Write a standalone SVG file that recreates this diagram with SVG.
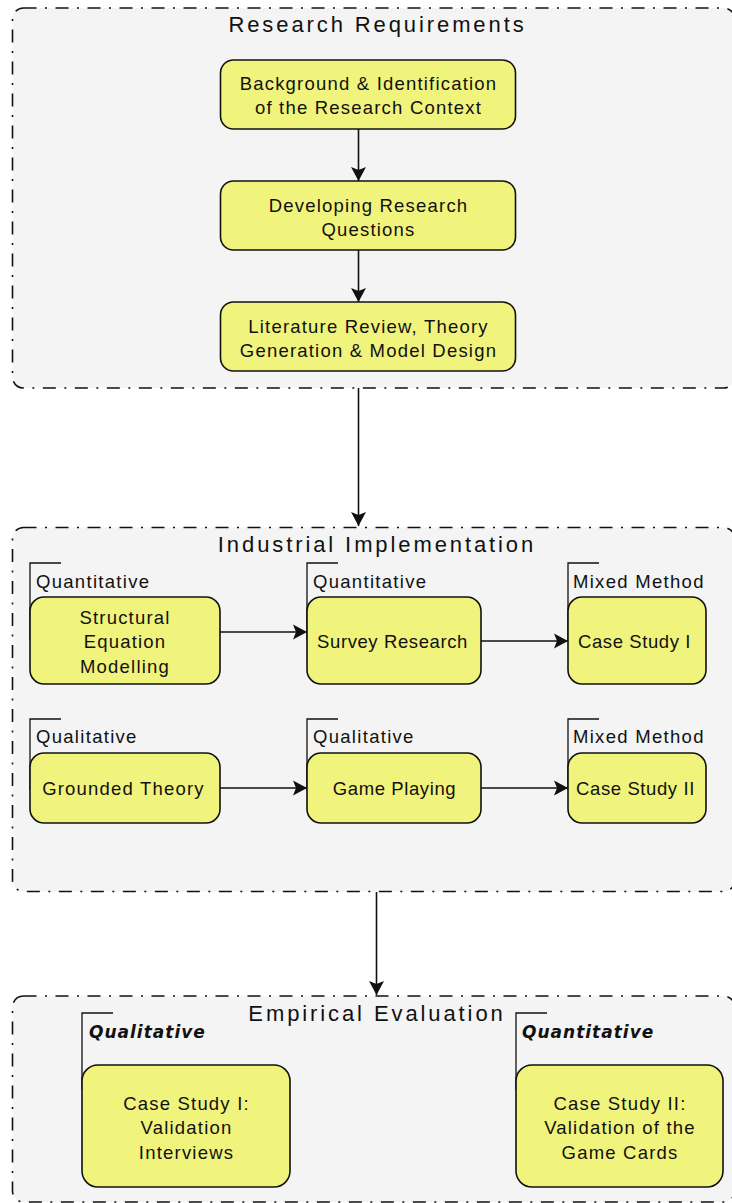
<svg xmlns="http://www.w3.org/2000/svg" width="732" height="1203" viewBox="0 0 732 1203">
<style>
.cont{fill:#f4f4f4;stroke:#111;stroke-width:1.6;stroke-dasharray:13 8.5 2 8.5}
.node{fill:#f1f47c;stroke:#111;stroke-width:1.6}
.br{fill:none;stroke:#111;stroke-width:1.3}
.title{font-family:"Liberation Sans",Arial,sans-serif;font-size:22px;letter-spacing:2.9px;fill:#111;text-anchor:middle}
.t{font-family:"Liberation Sans",Arial,sans-serif;font-size:18.5px;letter-spacing:1.2px;fill:#111;text-anchor:middle}
.tn{letter-spacing:0.6px}
.lab{font-family:"Liberation Sans",Arial,sans-serif;font-size:18.5px;letter-spacing:1.3px;fill:#111}
.blab{font-family:"DejaVu Sans",sans-serif;font-size:17px;font-weight:bold;font-style:italic;letter-spacing:1px;fill:#111}
.edge{fill:none;stroke:#111;stroke-width:1.6}
</style>
<defs>
<marker id="ah" viewBox="0 0 16 16" refX="14" refY="8" markerWidth="16" markerHeight="16" markerUnits="userSpaceOnUse" orient="auto">
<path d="M0,0.5 L14,8 L0,15.5 L3,8 Z" fill="#111"/>
</marker>
</defs>

<g id="container-research-requirements">
<rect class="cont" x="12.5" y="8" width="722" height="380" rx="11"/>
<text class="title" x="377.5" y="32">Research Requirements</text>
</g>
<g id="container-industrial-implementation">
<rect class="cont" x="12.5" y="527.5" width="722" height="364" rx="11"/>
<text class="title" x="377" y="552">Industrial Implementation</text>
</g>
<g id="container-empirical-evaluation">
<rect class="cont" x="12.5" y="996" width="722" height="206" rx="11"/>
<text class="title" x="377" y="1021">Empirical Evaluation</text>
</g>

<g id="connectors">
<line class="edge" x1="358.5" y1="129" x2="358.5" y2="181" marker-end="url(#ah)"/>
<line class="edge" x1="358.5" y1="250" x2="358.5" y2="302" marker-end="url(#ah)"/>
<line class="edge" x1="358.5" y1="388" x2="358.5" y2="526" marker-end="url(#ah)"/>
<line class="edge" x1="220" y1="632" x2="307" y2="632" marker-end="url(#ah)"/>
<line class="edge" x1="481" y1="641" x2="568" y2="641" marker-end="url(#ah)"/>
<line class="edge" x1="220" y1="788" x2="307" y2="788" marker-end="url(#ah)"/>
<line class="edge" x1="481" y1="788" x2="568" y2="788" marker-end="url(#ah)"/>
<line class="edge" x1="376.5" y1="892" x2="376.5" y2="995" marker-end="url(#ah)"/>
</g>

<g id="node-background">
<rect class="node" x="220.5" y="60" width="295" height="69" rx="13"/>
<text class="t" x="368.5" y="89.5">Background &amp; Identification</text>
<text class="t" x="368.5" y="114">of the Research Context</text>
</g>
<g id="node-questions">
<rect class="node" x="220.5" y="181" width="295" height="69" rx="13"/>
<text class="t" x="368.5" y="211.5">Developing Research</text>
<text class="t" x="368.5" y="235.5">Questions</text>
</g>
<g id="node-literature">
<rect class="node" x="220.5" y="302" width="295" height="69" rx="13"/>
<text class="t" x="368.5" y="332.5">Literature Review, Theory</text>
<text class="t" x="368.5" y="356.5">Generation &amp; Model Design</text>
</g>

<g id="node-sem">
<path class="br" d="M30,640 V563 H61"/>
<text class="lab" x="36" y="587.5">Quantitative</text>
<rect class="node" x="30" y="597" width="190" height="87" rx="14"/>
<text class="t" x="125" y="623.5">Structural</text>
<text class="t" x="125" y="648">Equation</text>
<text class="t" x="125" y="672.5">Modelling</text>
</g>
<g id="node-survey">
<path class="br" d="M307,640 V563 H338"/>
<text class="lab" x="313" y="587.5">Quantitative</text>
<rect class="node" x="307" y="597" width="174" height="87" rx="14"/>
<text class="t tn" x="392.5" y="647.5">Survey Research</text>
</g>
<g id="node-case1">
<path class="br" d="M568,640 V563 H599"/>
<text class="lab" x="573" y="587.5">Mixed Method</text>
<rect class="node" x="568" y="597" width="138" height="87" rx="14"/>
<text class="t tn" x="634.5" y="647.5">Case Study I</text>
</g>

<g id="node-grounded">
<path class="br" d="M30,790 V719 H61"/>
<text class="lab" x="36" y="743">Qualitative</text>
<rect class="node" x="30" y="753" width="190" height="70" rx="14"/>
<text class="t" x="123.5" y="794.5">Grounded Theory</text>
</g>
<g id="node-game">
<path class="br" d="M307,790 V719 H338"/>
<text class="lab" x="313" y="743">Qualitative</text>
<rect class="node" x="307" y="753" width="174" height="70" rx="14"/>
<text class="t tn" x="394.5" y="794.5">Game Playing</text>
</g>
<g id="node-case2">
<path class="br" d="M568,790 V719 H599"/>
<text class="lab" x="573" y="743">Mixed Method</text>
<rect class="node" x="568" y="753" width="138" height="70" rx="14"/>
<text class="t tn" x="635.5" y="794.5">Case Study II</text>
</g>

<g id="node-validation-interviews">
<path class="br" d="M82,1090 V1013 H113"/>
<text class="blab" x="89" y="1038">Qualitative</text>
<rect class="node" x="82" y="1065" width="208" height="122" rx="16"/>
<text class="t" x="186.5" y="1109.5">Case Study I:</text>
<text class="t" x="186.5" y="1133.5">Validation</text>
<text class="t" x="186.5" y="1158.5">Interviews</text>
</g>
<g id="node-validation-cards">
<path class="br" d="M516,1090 V1013 H547"/>
<text class="blab" x="522" y="1038">Quantitative</text>
<rect class="node" x="516" y="1065" width="207" height="122" rx="16"/>
<text class="t" x="620" y="1109.5">Case Study II:</text>
<text class="t" x="620" y="1133.5">Validation of the</text>
<text class="t" x="620" y="1158.5">Game Cards</text>
</g>
</svg>
